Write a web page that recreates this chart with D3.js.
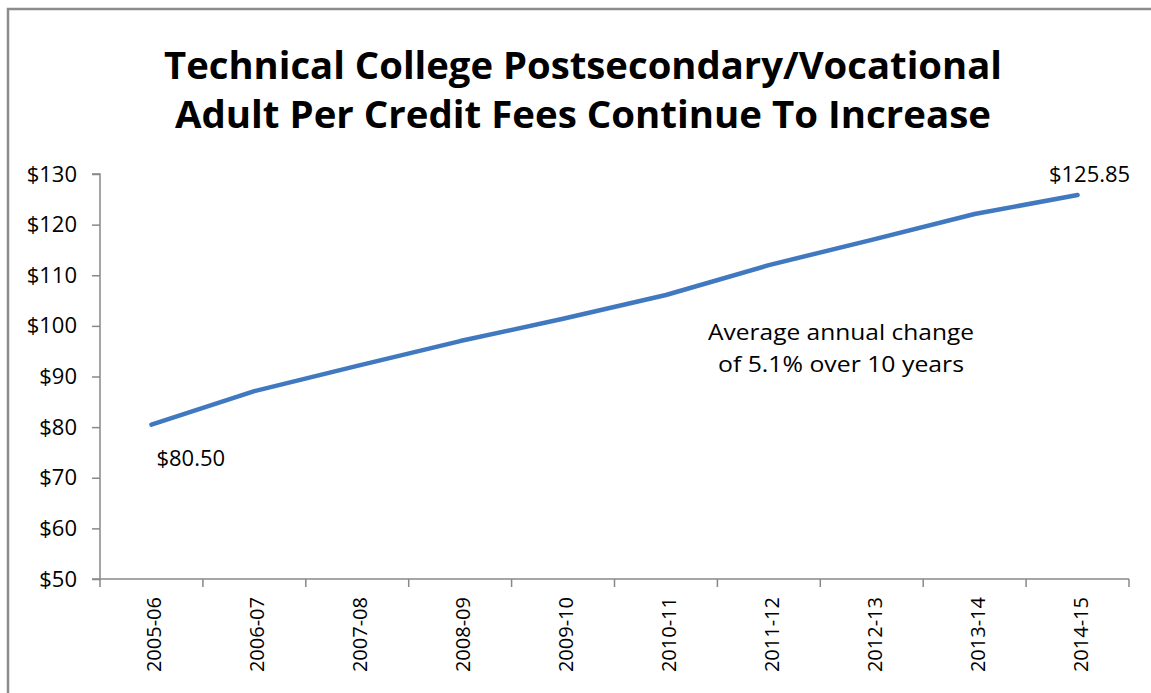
<!DOCTYPE html>
<html>
<head>
<meta charset="utf-8">
<script src="https://cdn.jsdelivr.net/npm/d3@7"></script>
<style>
  body { margin: 0; background: #fff; }
  text { font-family: "Open Sans", "Noto Sans", sans-serif; }
</style>
</head>
<body>
<svg id="chart"></svg>
<script>
var w = 1151;
var h = 693;
// data
let years = ["2005-06", "2006-07", "2007-08", "2008-09", "2009-10",
  "2010-11", "2011-12", "2012-13", "2013-14", "2014-15"];
let fees = [80.50, 87.1, 92.1, 97.0, 101.4, 106.1, 112.0, 117.0, 122.1, 125.85];
let yTicks = [50, 60, 70, 80, 90, 100, 110, 120, 130];
let titleLines = ["Technical College Postsecondary/Vocational",
  "Adult Per Credit Fees Continue To Increase"];
let noteLines = ["Average annual change", "of 5.1% over 10 years"];

var margin = { left: 100, right: 1129, top: 174, bottom: 579 };
var axisColor = "#888888";

var svg = d3.select("#chart")
  .attr("width", w)
  .attr("height", h);

// chart frame (runs off the right and bottom edge)
svg.append("rect")
  .attr("x", 8).attr("y", 9)
  .attr("width", 1200).attr("height", 800)
  .attr("fill", "white")
  .attr("stroke", "#8c8c8c")
  .attr("stroke-width", 2.5);

// title
svg.append("g").selectAll("text")
  .data(titleLines)
  .enter()
  .append("text")
  .attr("x", 583)
  .attr("y", (d, i) => 79 + i * 49)
  .attr("text-anchor", "middle")
  .attr("font-size", 37)
  .attr("font-weight", "bold")
  .attr("fill", "#000")
  .attr("textLength", (d, i) => i == 0 ? 838 : 816)
  .attr("lengthAdjust", "spacingAndGlyphs")
  .text(d => d);

var x = d3.scaleBand()
  .domain(years)
  .range([margin.left, margin.right]);
var y = d3.scaleLinear()
  .domain([50, 130])
  .range([margin.bottom, margin.top]);

// y axis
var yAxis = svg.append("g")
  .attr("transform", `translate(${margin.left},0)`)
  .call(d3.axisLeft(y).tickValues(yTicks).tickSize(8).tickFormat(d => "$" + d));
yAxis.select(".domain").attr("stroke", axisColor).attr("stroke-width", 1.5)
  .attr("d", `M-8,${margin.top}H0V${margin.bottom + 8}`);
yAxis.selectAll(".tick line").attr("stroke", axisColor).attr("stroke-width", 1.5);
yAxis.selectAll(".tick text")
  .attr("x", -23)
  .attr("font-size", 22)
  .attr("fill", "#000")
  .attr("font-family", "'Open Sans', sans-serif");

// x axis
var xAxis = svg.append("g")
  .attr("transform", `translate(0,${margin.bottom})`);
xAxis.append("line")
  .attr("x1", margin.left - 8).attr("x2", margin.right)
  .attr("stroke", axisColor).attr("stroke-width", 1.5);
xAxis.selectAll(".xtick")
  .data(years)
  .enter()
  .append("line")
  .attr("class", "xtick")
  .attr("x1", d => x(d) + x.bandwidth())
  .attr("x2", d => x(d) + x.bandwidth())
  .attr("y1", 0).attr("y2", 8)
  .attr("stroke", axisColor).attr("stroke-width", 1.5);
xAxis.selectAll(".xlabel")
  .data(years)
  .enter()
  .append("text")
  .attr("class", "xlabel")
  .attr("transform", d => `translate(${x(d) + x.bandwidth() / 2 + 10},18) rotate(-90)`)
  .attr("text-anchor", "end")
  .attr("font-size", 20)
  .attr("fill", "#000")
  .text(d => d);

// the line
var line = d3.line()
  .x((d, i) => x(years[i]) + x.bandwidth() / 2)
  .y(d => y(d));
svg.append("path")
  .datum(fees)
  .attr("d", line)
  .attr("fill", "none")
  .attr("stroke", "#4179c0")
  .attr("stroke-width", 4.5)
  .attr("stroke-linecap", "round")
  .attr("stroke-linejoin", "round");

// end labels
svg.append("text")
  .attr("x", x(years[0]) + x.bandwidth() / 2 + 5)
  .attr("y", y(fees[0]) + 41)
  .attr("font-size", 22)
  .text("$" + fees[0].toFixed(2));
svg.append("text")
  .attr("x", x(years[9]) + x.bandwidth() / 2 + 12)
  .attr("y", y(fees[9]) - 13)
  .attr("text-anchor", "middle")
  .attr("font-size", 22)
  .text("$" + fees[9].toFixed(2));

// note
svg.append("g").selectAll("text")
  .data(noteLines)
  .enter()
  .append("text")
  .attr("x", 841)
  .attr("y", (d, i) => 340 + i * 32)
  .attr("text-anchor", "middle")
  .attr("font-size", 22)
  .attr("textLength", (d, i) => i == 0 ? 266 : 246)
  .attr("lengthAdjust", "spacingAndGlyphs")
  .text(d => d);
</script>
</body>
</html>
